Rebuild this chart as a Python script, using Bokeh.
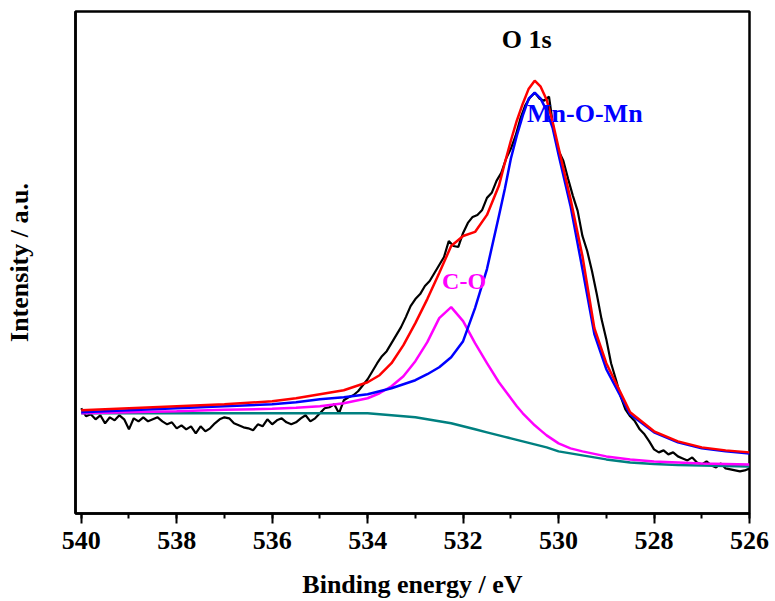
from bokeh.plotting import figure
from bokeh.models import Range1d, SingleIntervalTicker, FixedTicker, Label
from bokeh.embed import file_html
from bokeh.resources import INLINE

# ---- raw spectrum (binding energy grid 540.0 -> 526.0, step 0.1 eV) ----
energy_raw = [round(540.0 - 0.1 * i, 1) for i in range(141)]
intensity_raw = [
    105, 97, 99, 94, 98, 90, 96, 93, 98, 94,
    84, 95, 92, 96, 92, 94, 96, 92, 89, 91,
    85, 88, 84, 87, 80, 87, 82, 85, 90, 94,
    96, 95, 90, 88, 86, 85, 83, 89, 87, 94,
    89, 93, 95, 91, 89, 91, 95, 98, 92, 95,
    100, 105, 106, 109, 100, 113, 116, 118, 122, 128,
    134, 142, 150, 157, 162, 170, 178, 186, 196, 207,
    214, 219, 227, 232, 240, 248, 256, 272, 267, 266,
    280, 290, 296, 298, 303, 315, 320, 332, 340, 354,
    364, 377, 394, 407, 415, 420, 414, 412, 416, 382,
    362, 352, 334, 317, 302, 277, 262, 242, 219, 194,
    174, 150, 134, 117, 104, 97, 92, 84, 79, 72,
    64, 61, 63, 59, 61, 57, 55, 53, 56, 51,
    49, 52, 48, 46, 50, 45, 44, 43, 42, 43,
    45,
]

# ---- fitted components ----
energy_fit = [540, 539, 538, 537, 536, 535.5, 535, 534.5, 534, 533.75,
              533.5, 533.25, 533, 532.75, 532.5, 532.25, 532, 531.75, 531.5, 531.25,
              531.125, 531, 530.875, 530.75, 530.625, 530.5, 530.375, 530.25, 530.125, 530,
              529.75, 529.5, 529.25, 529, 528.5, 528, 527.5, 527, 526.5, 526]

envelope = [103, 105, 107, 109, 112, 115, 119, 123, 131, 138,
            150, 168, 190, 214, 240, 267, 277, 281, 298, 327,
            350, 372, 392, 409, 424, 432, 426, 413, 391, 365,
            314, 257, 185, 150, 101, 82, 72, 66, 63, 61]

mn_o_mn = [101, 103, 105, 107, 109, 111, 114, 116, 119, 122,
           125, 129, 133, 139, 146, 156, 172, 205, 244, 297,
           324, 354, 377, 397, 414, 420, 414, 402, 385, 358,
           307, 244, 179, 144, 99, 81, 71, 65, 62, 60]

c_o = [100, 101, 102, 103.5, 104.5, 105.5, 107, 110, 115, 120,
       127, 137, 152, 171, 195, 206, 192, 170, 150, 131,
       123, 115, 107, 100, 94, 88, 83, 78, 74, 70,
       65, 62, 59.5, 57, 54, 52, 51, 50, 49.5, 49]

background = [100, 100, 100, 100, 100, 100, 100, 100, 100, 99,
              98, 97, 96, 94, 92, 90, 87, 84, 81, 78,
              76.5, 75, 73.5, 72, 70.5, 69, 67.5, 66, 64, 62,
              60, 58, 56, 54, 51, 49.5, 48.5, 48, 47.5, 47]

x_ticks_interval = 2
FONT = "Liberation Serif"

p = figure(width=775, height=601,
           x_range=Range1d(540.12, 526), y_range=Range1d(0, 501),
           output_backend="svg", toolbar_location=None,
           min_border_left=75, min_border_right=26,
           min_border_top=11, min_border_bottom=88)

p.background_fill_color = "white"
p.border_fill_color = "white"
p.outline_line_color = "black"
p.outline_line_width = 2.5
p.grid.visible = False

# x axis
xa = p.xaxis[0]
xa.ticker = SingleIntervalTicker(interval=x_ticks_interval, num_minor_ticks=2)
xa.axis_line_width = 2.5
xa.major_tick_in = 0
xa.major_tick_out = 10
xa.minor_tick_in = 0
xa.minor_tick_out = 5
xa.major_tick_line_width = 2
xa.minor_tick_line_width = 2
xa.major_label_text_font = FONT
xa.major_label_text_font_size = "26px"
xa.major_label_text_font_style = "bold"
xa.major_label_text_color = "black"
xa.major_label_standoff = 8
xa.axis_label = "Binding energy / eV"
xa.axis_label_text_font = FONT
xa.axis_label_text_font_size = "26px"
xa.axis_label_text_font_style = "bold"
xa.axis_label_text_color = "black"
xa.axis_label_standoff = 18

# y axis (no ticks)
ya = p.yaxis[0]
ya.ticker = FixedTicker(ticks=[])
ya.axis_line_width = 2.5
ya.major_tick_out = 0
ya.major_tick_in = 0
ya.major_tick_line_color = None
ya.minor_tick_line_color = None
ya.major_label_text_font_size = "0px"
ya.axis_label = "Intensity / a.u."
ya.axis_label_text_font = FONT
ya.axis_label_text_font_size = "26px"
ya.axis_label_text_font_style = "bold"
ya.axis_label_text_color = "black"
ya.axis_label_standoff = 42

# curves
p.line(energy_raw, intensity_raw, line_color="black", line_width=2.2)
p.line(energy_fit, background, line_color="#008080", line_width=2.5)
p.line(energy_fit, c_o, line_color="#FF00FF", line_width=2.5)
p.line(energy_fit, mn_o_mn, line_color="#0000FF", line_width=2.5)
p.line(energy_fit, envelope, line_color="#FF0000", line_width=2.5)

# texts
p.add_layout(Label(x=530.67, y=473, text="O 1s", text_align="center",
                   text_baseline="alphabetic", text_font=FONT,
                   text_font_size="26px", text_font_style="bold", text_color="black"))
p.add_layout(Label(x=530.66, y=399, text="Mn-O-Mn", text_align="left",
                   text_baseline="alphabetic", text_font=FONT,
                   text_font_size="26px", text_font_style="bold", text_color="#0000FF"))
p.add_layout(Label(x=532.44, y=232, text="C-O", text_align="left",
                   text_baseline="alphabetic", text_font=FONT,
                   text_font_size="24px", text_font_style="bold", text_color="#FF00FF"))

open("out.html", "w").write(file_html(p, INLINE))
